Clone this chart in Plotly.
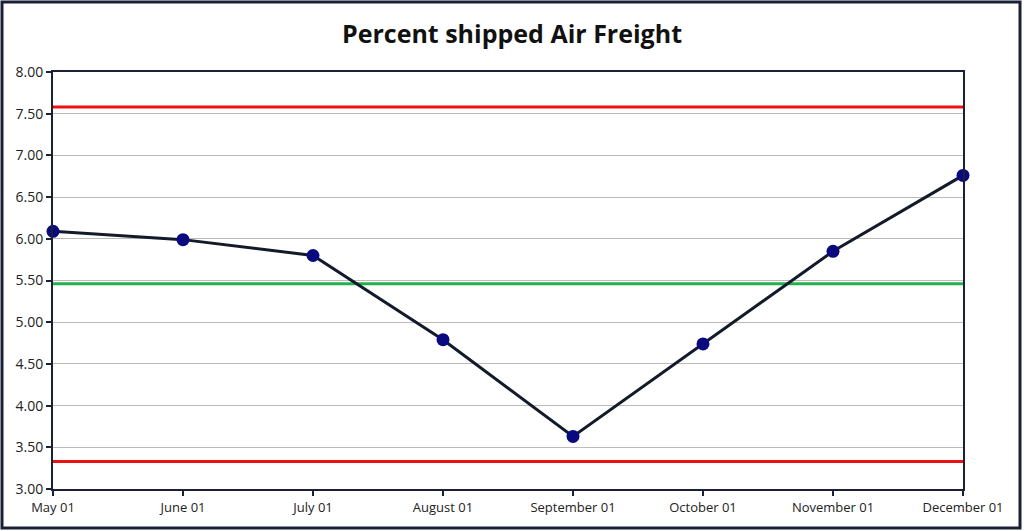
import plotly.graph_objects as go

months = ["May 01", "June 01", "July 01", "August 01", "September 01",
          "October 01", "November 01", "December 01"]
percent = [6.09, 5.99, 5.80, 4.79, 3.63, 4.74, 5.85, 6.76]
ucl = 7.58
center = 5.46
lcl = 3.33
y_ticks = [3.0, 3.5, 4.0, 4.5, 5.0, 5.5, 6.0, 6.5, 7.0, 7.5, 8.0]

xs = list(range(len(months)))
fig = go.Figure()
for val, col in [(ucl, "#ee1111"), (lcl, "#ee1111"), (center, "#22b14c")]:
    fig.add_trace(go.Scatter(x=[xs[0], xs[-1]], y=[val, val], mode="lines",
                             line=dict(color=col, width=3), hoverinfo="skip",
                             showlegend=False))
fig.add_trace(go.Scatter(x=xs, y=percent, mode="lines+markers",
                         line=dict(color="#131a2a", width=3),
                         marker=dict(color="#0a0a80", size=13),
                         cliponaxis=False, showlegend=False))

L, R, T, B = 53, 61, 72, 42
W, H = 1024, 531
pw, ph = W - L - R, H - T - B
fig.add_shape(type="rect", xref="paper", yref="paper",
              x0=(2 - L) / pw, x1=(W - 4 - L) / pw,
              y0=(ph - (H - 3 - T)) / ph, y1=(ph + T - 2) / ph,
              line=dict(color="#1a2035", width=3), layer="below")

fig.update_layout(
    width=W, height=H,
    margin=dict(l=L, r=R, t=T, b=B),
    paper_bgcolor="white", plot_bgcolor="white",
    font=dict(family="Open Sans, sans-serif", size=13, color="#222"),
    title=dict(text="<b>Percent shipped Air Freight</b>", x=0.5, xanchor="center",
               y=1 - 34 / H, yanchor="middle",
               font=dict(size=25, color="#111", family="Open Sans, sans-serif")),
    xaxis=dict(range=[0, 7], tickvals=xs, ticktext=months, showgrid=False,
               zeroline=False, showline=True, linecolor="#1a2035", linewidth=2,
               mirror=True, ticks="outside", ticklen=5, tickcolor="#1a2035",
               tickwidth=2),
    yaxis=dict(range=[3, 8], tickvals=y_ticks,
               ticktext=[f"{v:.2f}" for v in y_ticks], showgrid=True,
               gridcolor="#bbbbbb", gridwidth=1, zeroline=False, showline=True,
               linecolor="#1a2035", linewidth=2, mirror=True, ticks="outside",
               ticklen=5, tickcolor="#1a2035", tickwidth=2,
               tickfont=dict(size=14)),
)
fig.write_html("out.html")
